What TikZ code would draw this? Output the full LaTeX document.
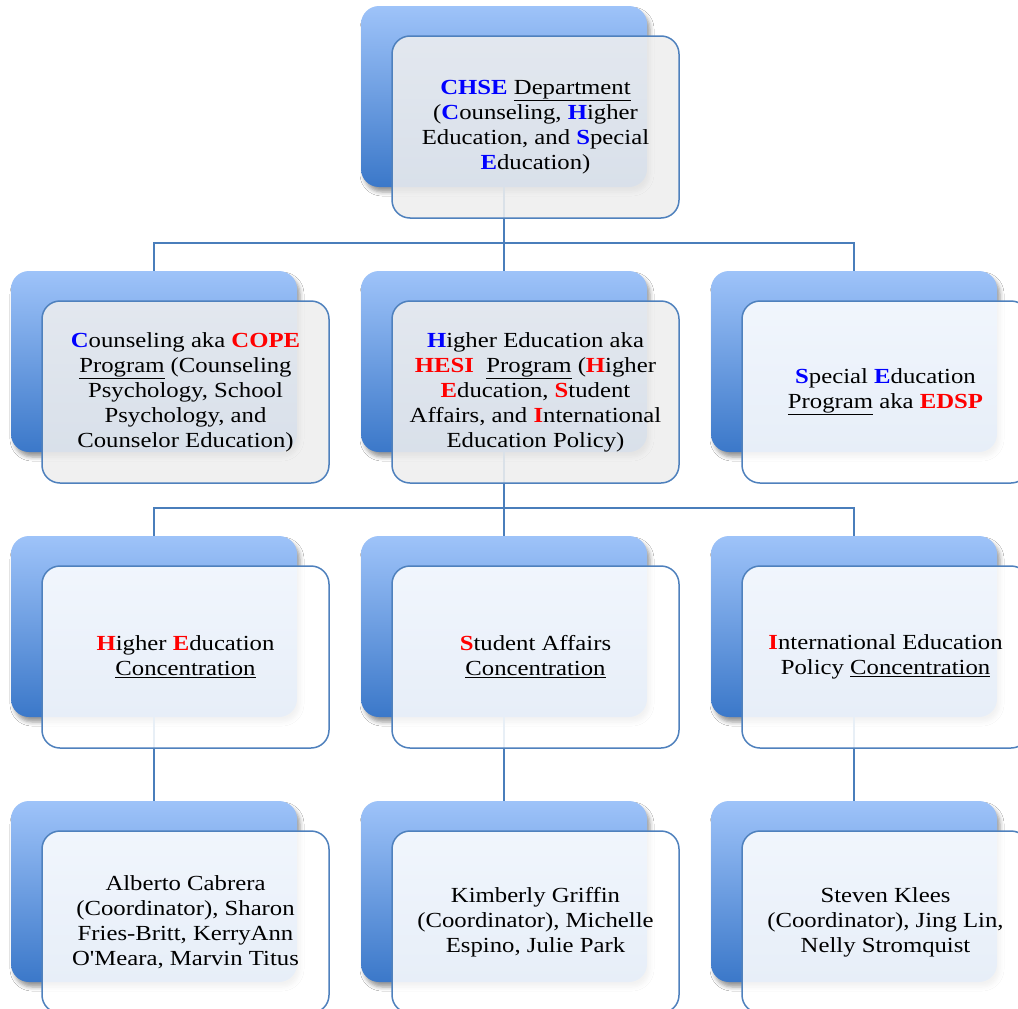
\documentclass[tikz,border=0pt]{standalone}
\usepackage{fontspec}
\setmainfont{Liberation Serif}[FakeStretch=1.15, Ligatures=TeXOff]
\usetikzlibrary{shadows.blur}
\definecolor{backtop}{HTML}{9EC3F9}
\definecolor{backbot}{HTML}{3B78C9}
\definecolor{frontline}{HTML}{4F81BD}
\definecolor{conn}{HTML}{4A7EBB}
\definecolor{grayfill}{HTML}{EFEFEF}
\definecolor{cblue}{HTML}{0000FF}
\definecolor{cred}{HTML}{FF0000}
\newcommand{\myB}[1]{\textbf{\textcolor{cblue}{#1}}}
\newcommand{\myR}[1]{\textbf{\textcolor{cred}{#1}}}
\tikzset{
  backbox/.style={rectangle, rounded corners=18pt, minimum width=286pt, minimum height=181pt, inner sep=0pt,
    top color=backtop, bottom color=backbot, draw=none,
    blur shadow={shadow xshift=3pt, shadow yshift=-5pt, shadow blur radius=4pt, shadow opacity=40}},
  frontbox/.style={rectangle, rounded corners=18pt, minimum width=287pt, minimum height=182pt, inner sep=0pt,
    draw=frontline, line width=1.5pt, fill=#1, fill opacity=0.88},
  frontbox/.default=white,
  label text/.style={align=center, text=black, inner sep=0pt, font=\fontsize{21.5}{25}\selectfont},
  conline/.style={draw=conn, line width=1.6pt}
}
\begin{document}
\begin{tikzpicture}[x=1pt,y=1pt]
\useasboundingbox (0,0) rectangle (1018,-1009);
\fill[white] (0,0) rectangle (1018,-1009);
% back boxes
\node[backbox] (b1) at (504,-96.5) {};
\node[backbox] (b2l) at (154,-361.5) {};
\node[backbox] (b2m) at (504,-361.5) {};
\node[backbox] (b2r) at (854,-361.5) {};
\node[backbox] (b3l) at (154,-626.5) {};
\node[backbox] (b3m) at (504,-626.5) {};
\node[backbox] (b3r) at (854,-626.5) {};
\node[backbox] (b4l) at (154,-891.5) {};
\node[backbox] (b4m) at (504,-891.5) {};
\node[backbox] (b4r) at (854,-891.5) {};
% connectors
\coordinate (bus1) at (504,-243);
\coordinate (bus2) at (504,-508);
\draw[conline] (b1.south) -- (bus1) -| (b2l.north);
\draw[conline] (bus1) -| (b2r.north);
\draw[conline] (bus1) -- (b2m.north);
\draw[conline] (b2m.south) -- (bus2) -| (b3l.north);
\draw[conline] (bus2) -| (b3r.north);
\draw[conline] (bus2) -- (b3m.north);
\draw[conline] (b3l.south) -- (b4l.north);
\draw[conline] (b3m.south) -- (b4m.north);
\draw[conline] (b3r.south) -- (b4r.north);
% front boxes
\node[frontbox=grayfill] (f1) at (535.5,-127) {};
\node[frontbox=grayfill] (f2l) at (185.5,-392) {};
\node[frontbox=grayfill] (f2m) at (535.5,-392) {};
\node[frontbox] (f2r) at (885.5,-392) {};
\node[frontbox] (f3l) at (185.5,-657) {};
\node[frontbox] (f3m) at (535.5,-657) {};
\node[frontbox] (f3r) at (885.5,-657) {};
\node[frontbox] (f4l) at (185.5,-922) {};
\node[frontbox] (f4m) at (535.5,-922) {};
\node[frontbox] (f4r) at (885.5,-922) {};
% texts
\node[label text] (t1) at (f1.center) {\myB{CHSE} \underline{Department}\\(\myB{C}ounseling, \myB{H}igher\\Education, and \myB{S}pecial\\\myB{E}ducation)};
\node[label text] (t2l) at (f2l.center) {\myB{C}ounseling aka \myR{COPE}\\\underline{Program} (Counseling\\Psychology, School\\Psychology, and\\Counselor Education)};
\node[label text] (t2m) at (f2m.center) {\myB{H}igher Education aka\\\myR{HESI}~ \underline{Program} (\myR{H}igher\\\myR{E}ducation, \myR{S}tudent\\Affairs, and \myR{I}nternational\\Education Policy)};
\node[label text] (t2r) at (f2r.center) {\myB{S}pecial \myB{E}ducation\\\underline{Program} aka \myR{EDSP}};
\node[label text] (t3l) at (f3l.center) {\myR{H}igher \myR{E}ducation\\\underline{Concentration}};
\node[label text] (t3m) at (f3m.center) {\myR{S}tudent Affairs\\\underline{Concentration}};
\node[label text] (t3r) at (f3r.center) {\myR{I}nternational Education\\Policy \underline{Concentration}};
\node[label text] (t4l) at (f4l.center) {Alberto Cabrera\\(Coordinator), Sharon\\Fries-Britt, KerryAnn\\O'Meara, Marvin Titus};
\node[label text] (t4m) at (f4m.center) {Kimberly Griffin\\(Coordinator), Michelle\\Espino, Julie Park};
\node[label text] (t4r) at (f4r.center) {Steven Klees\\(Coordinator), Jing Lin,\\Nelly Stromquist};
\end{tikzpicture}
\end{document}
